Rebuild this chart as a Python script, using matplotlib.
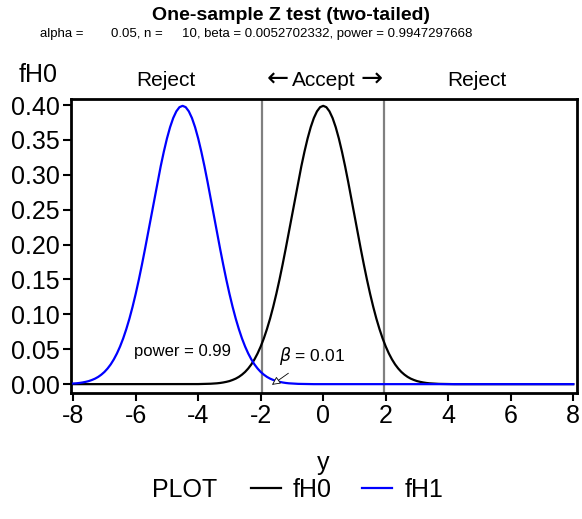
import matplotlib
matplotlib.use("Agg")
import matplotlib.pyplot as plt

plt.rcParams["font.family"] = ["Liberation Sans", "DejaVu Sans"]

# grid of y values, step 0.1, from -8 to 8
y_vals = [round(-8 + 0.1 * i, 1) for i in range(161)]

# density under H0, nonzero for y in [-4, 4]
fH0 = [0.0] * 40 + [
    0.0001, 0.0002, 0.0003, 0.0004, 0.0006, 0.0009, 0.0012, 0.0017,
    0.0024, 0.0033, 0.0044, 0.0060, 0.0079, 0.0104, 0.0136, 0.0175,
    0.0224, 0.0283, 0.0355, 0.0440, 0.0540, 0.0656, 0.0790, 0.0940,
    0.1109, 0.1295, 0.1497, 0.1714, 0.1942, 0.2179, 0.2420, 0.2661,
    0.2897, 0.3123, 0.3332, 0.3521, 0.3683, 0.3814, 0.3910, 0.3970,
    0.3989,
    0.3970, 0.3910, 0.3814, 0.3683, 0.3521, 0.3332, 0.3123, 0.2897,
    0.2661, 0.2420, 0.2179, 0.1942, 0.1714, 0.1497, 0.1295, 0.1109,
    0.0940, 0.0790, 0.0656, 0.0540, 0.0440, 0.0355, 0.0283, 0.0224,
    0.0175, 0.0136, 0.0104, 0.0079, 0.0060, 0.0044, 0.0033, 0.0024,
    0.0017, 0.0012, 0.0009, 0.0006, 0.0004, 0.0003, 0.0002, 0.0001,
] + [0.0] * 40

# density under H1, nonzero for y in [-8, -0.5]
fH1 = [
    0.0009, 0.0012, 0.0017, 0.0024, 0.0033, 0.0044, 0.0060, 0.0079,
    0.0104, 0.0136, 0.0175, 0.0224, 0.0283, 0.0355, 0.0440, 0.0540,
    0.0656, 0.0790, 0.0940, 0.1109, 0.1295, 0.1497, 0.1714, 0.1942,
    0.2179, 0.2420, 0.2661, 0.2897, 0.3123, 0.3332, 0.3521, 0.3683,
    0.3814, 0.3910, 0.3970,
    0.3989,
    0.3970, 0.3910, 0.3814, 0.3683, 0.3521, 0.3332, 0.3123, 0.2897,
    0.2661, 0.2420, 0.2179, 0.1942, 0.1714, 0.1497, 0.1295, 0.1109,
    0.0940, 0.0790, 0.0656, 0.0540, 0.0440, 0.0355, 0.0283, 0.0224,
    0.0175, 0.0136, 0.0104, 0.0079, 0.0060, 0.0044, 0.0033, 0.0024,
    0.0017, 0.0012, 0.0009, 0.0006, 0.0004, 0.0003, 0.0002, 0.0001,
] + [0.0] * 85

crit = [-1.96, 1.96]
x_ticks = [-8, -6, -4, -2, 0, 2, 4, 6, 8]
y_ticks = [0.00, 0.05, 0.10, 0.15, 0.20, 0.25, 0.30, 0.35, 0.40]

fig = plt.figure(figsize=(5.82, 5.19), dpi=100)
ax = fig.add_axes([0.122, 0.2437, 0.8694, 0.5646])

for c in crit:
    ax.axvline(c, color="#808080", lw=1.6, zorder=1)

ax.plot(y_vals, fH0, color="black", lw=1.6, label="fH0", zorder=2)
ax.plot(y_vals, fH1, color="#0000ff", lw=1.6, label="fH1", zorder=3)

ax.set_xlim(-8.07, 8.12)
ax.set_ylim(-0.012, 0.408)
ax.set_xticks(x_ticks)
ax.set_xticklabels([str(t) for t in x_ticks])
ax.set_yticks(y_ticks)
ax.set_yticklabels([f"{t:.2f}" for t in y_ticks])
ax.tick_params(direction="out", length=6, width=1.5, labelsize=18, pad=2)
for s in ax.spines.values():
    s.set_linewidth(2)

ax.text(-4.5, 0.047, "power = 0.99", fontsize=12, ha="center", va="center")
ax.annotate(r"$\beta$ = 0.01", xy=(-1.64, -0.001), xytext=(-1.4, 0.04),
            fontsize=12.5, ha="left", va="center",
            arrowprops=dict(arrowstyle="-|>", color="black", lw=0.6,
                            fc="white", shrinkA=4, shrinkB=0))

# titles and labels in figure pixels
W, H = 582, 519
def ft(x, y, s, **kw):
    fig.text(x / W, 1 - y / H, s, **kw)

ft(291, 15, "One-sample Z test (two-tailed)", fontsize=14, fontweight="bold",
   ha="center", va="center")
ft(40, 34, "alpha =", fontsize=9.5, ha="left", va="center")
ft(111, 34, "0.05, n =", fontsize=9.5, ha="left", va="center")
ft(182, 34, "10, beta = 0.0052702332, power = 0.9947297668", fontsize=9.5,
   ha="left", va="center")
ft(38, 75, "fH0", fontsize=18, ha="center", va="center")
ft(166, 80, "Reject", fontsize=15, ha="center", va="center")
ft(278, 80, "\u2190", fontsize=19, ha="center", va="center",
   family=["DejaVu Sans"])
ft(324, 80, "Accept", fontsize=15, ha="center", va="center")
ft(372, 80, "\u2192", fontsize=19, ha="center", va="center",
   family=["DejaVu Sans"])
ft(477, 80, "Reject", fontsize=15, ha="center", va="center")
ft(323, 463, "y", fontsize=18, ha="center", va="center")
ft(185, 490, "PLOT", fontsize=18, ha="center", va="center")

fig.legend(loc="center", bbox_to_anchor=(347 / W, 1 - 490 / H), ncol=2,
           frameon=False, fontsize=18, handlelength=1.2, handletextpad=0.5,
           columnspacing=1.2)

fig.savefig("out.png", dpi=100)
